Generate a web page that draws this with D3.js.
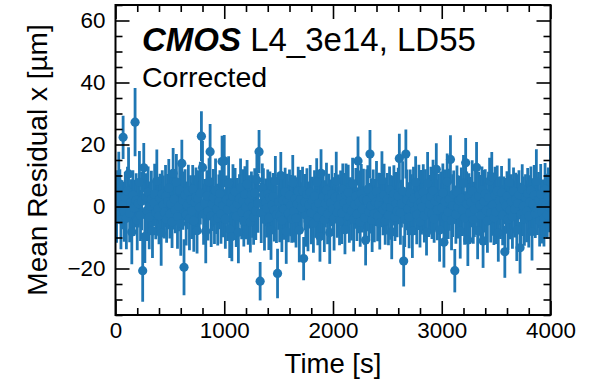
<!DOCTYPE html>
<html>
<head>
<meta charset="utf-8">
<script src="https://cdn.jsdelivr.net/npm/d3@7"></script>
<style>
  body { margin: 0; background: #fff; }
  svg { font-family: "Liberation Sans", Arial, Helvetica, sans-serif; }
  .tick line { stroke: #000; stroke-width: 1.6; }
  .tick text { fill: #000; }
</style>
</head>
<body>
<svg id="chart"></svg>
<script>
// time stamps [s]
const times = [
  0,10,20,30,40,50,60,70,80,90,100,110,120,130,140,150,160,170,180,190,
  200,210,220,230,240,250,260,270,280,290,300,310,320,330,340,350,360,370,380,390,
  400,410,420,430,440,450,460,470,480,490,500,510,520,530,540,550,560,570,580,590,
  600,610,620,630,640,650,660,670,680,690,700,710,720,730,740,750,760,770,780,790,
  800,810,820,830,840,850,860,870,880,890,900,910,920,930,940,950,960,970,980,990,
  1000,1010,1020,1030,1040,1050,1060,1070,1080,1090,1100,1110,1120,1130,1140,1150,1160,1170,1180,1190,
  1200,1210,1220,1230,1240,1250,1260,1270,1280,1290,1300,1310,1320,1330,1340,1350,1360,1370,1380,1390,
  1400,1410,1420,1430,1440,1450,1460,1470,1480,1490,1500,1510,1520,1530,1540,1550,1560,1570,1580,1590,
  1600,1610,1620,1630,1640,1650,1660,1670,1680,1690,1700,1710,1720,1730,1740,1750,1760,1770,1780,1790,
  1800,1810,1820,1830,1840,1850,1860,1870,1880,1890,1900,1910,1920,1930,1940,1950,1960,1970,1980,1990,
  2000,2010,2020,2030,2040,2050,2060,2070,2080,2090,2100,2110,2120,2130,2140,2150,2160,2170,2180,2190,
  2200,2210,2220,2230,2240,2250,2260,2270,2280,2290,2300,2310,2320,2330,2340,2350,2360,2370,2380,2390,
  2400,2410,2420,2430,2440,2450,2460,2470,2480,2490,2500,2510,2520,2530,2540,2550,2560,2570,2580,2590,
  2600,2610,2620,2630,2640,2650,2660,2670,2680,2690,2700,2710,2720,2730,2740,2750,2760,2770,2780,2790,
  2800,2810,2820,2830,2840,2850,2860,2870,2880,2890,2900,2910,2920,2930,2940,2950,2960,2970,2980,2990,
  3000,3010,3020,3030,3040,3050,3060,3070,3080,3090,3100,3110,3120,3130,3140,3150,3160,3170,3180,3190,
  3200,3210,3220,3230,3240,3250,3260,3270,3280,3290,3300,3310,3320,3330,3340,3350,3360,3370,3380,3390,
  3400,3410,3420,3430,3440,3450,3460,3470,3480,3490,3500,3510,3520,3530,3540,3550,3560,3570,3580,3590,
  3600,3610,3620,3630,3640,3650,3660,3670,3680,3690,3700,3710,3720,3730,3740,3750,3760,3770,3780,3790,
  3800,3810,3820,3830,3840,3850,3860,3870,3880,3890,3900,3910,3920,3930,3940,3950,3960,3970,3980,3990,
  4000
];

// mean residual x [um]
const residuals = [
  1.8,-2.6,4.1,7.5,3.2,-4.3,0.6,22.3,-1.7,2.9,
  -3.8,5.0,10.5,-2.2,1.3,-8.2,3.6,-0.4,27.2,2.0,
  -4.5,0.9,7.8,-2.9,1.7,-20.7,12.5,-9.7,3.1,-1.3,
  4.6,-3.5,0.2,2.4,-7.9,1.1,3.9,-2.0,8.2,-0.7,
  -3.0,2.6,-8.6,4.0,0.5,-1.9,3.4,-4.1,1.6,6.0,
  -2.4,0.8,-4.9,10.7,2.3,-1.1,7.9,-3.3,0.1,5.2,
  -5.5,13.9,1.9,-19.6,3.7,-2.7,0.4,4.9,-3.9,2.1,
  -1.4,5.6,-4.6,1.4,3.0,-7.8,2.5,-0.3,4.3,22.7,
  12.6,-2.5,1.0,-8.0,3.5,-1.6,8.0,17.7,-3.1,0.7,
  2.8,-4.4,5.1,-0.8,-3.6,1.5,4.2,-2.3,14.5,0.3,
  14.7,-4.0,2.2,-1.0,7.6,-7.4,1.2,-9.7,3.3,-0.5,
  4.8,-3.2,0.9,-8.3,2.7,6.1,-1.8,1.8,-4.8,3.9,
  -0.2,7.2,-2.8,1.6,-5.0,3.8,0.0,-3.4,4.4,-1.5,
  8.5,1.0,17.7,-24.1,-2.1,5.9,3.7,-4.2,1.3,-0.6,
  4.0,-3.7,2.9,-7.6,0.6,3.2,-1.2,8.1,-2.6,-21.6,
  1.5,-3.0,10.0,-4.5,2.0,-0.9,4.7,-8.1,1.9,-2.2,
  3.6,0.3,-4.0,7.7,-1.6,2.5,-3.8,0.8,4.9,-7.7,
  2.2,-0.4,5.0,-16.8,1.4,-2.9,3.9,-4.7,0.5,4.6,
  -2.0,1.7,-5.4,3.4,-0.1,7.9,-3.5,1.0,-9.7,10.7,
  -1.3,3.1,-4.3,0.9,5.2,-2.4,2.6,-8.4,1.2,4.1,
  -0.8,-3.9,3.0,8.3,-1.9,0.4,-4.8,2.8,-2.1,5.5,
  1.1,-7.5,3.7,-0.6,4.5,-3.2,1.8,-1.4,7.4,-4.1,
  0.6,3.3,-2.5,14.7,1.5,-5.0,4.2,-0.9,2.4,-3.6,
  -10.8,2.0,5.6,-1.7,16.9,0.2,-4.4,3.5,-2.3,1.3,
  4.8,-3.1,0.7,-5.3,2.9,8.4,-1.0,3.8,-4.6,0.0,
  2.3,-2.8,5.3,-0.3,-8.2,1.9,4.0,-3.3,1.0,-1.5,
  3.4,15.5,-2.0,0.9,5.0,-17.6,-4.2,16.9,2.1,-0.7,
  -3.5,4.3,1.2,-7.9,2.6,-1.3,7.8,-2.7,0.5,3.6,
  -4.9,1.4,-0.2,4.6,-3.0,2.3,-8.3,7.5,-1.6,0.8,
  3.2,-2.4,5.1,-4.0,1.7,12.0,-1.1,3.0,-7.6,2.5,
  -0.5,4.4,-11.5,1.6,-3.4,8.0,-1.8,2.2,15.2,-4.5,
  0.3,3.9,-20.7,-2.6,4.7,-0.1,1.9,-8.0,2.7,-1.2,
  7.6,-3.7,14.1,0.9,-10.8,3.1,-2.2,1.4,4.9,-4.2,
  -0.9,2.6,12.6,-7.8,3.5,0.4,-2.9,5.3,-11.1,1.7,
  4.1,-1.4,-4.7,2.9,8.2,-2.0,9.6,0.6,-3.6,3.7,
  -1.7,5.0,-8.5,1.8,-0.4,4.5,-2.8,2.0,-14.6,0.2,
  3.3,-4.1,7.9,-1.1,1.5,-3.3,4.8,-0.8,2.4,-7.7,
  1.0,3.8,-13.3,-2.5,5.6,0.1,-4.0,2.9,-1.5,4.2,
  -3.1,1.3,5.2,-8.1,0.7,3.6,-2.3,8.1,-0.6,2.1,
  -4.6,4.0,-1.9,1.1,-3.8,5.5,0.4,-2.7,3.1,-0.2,
  8.0
];

// uncertainty on each point [um]
const errors = [
  8.4,9.1,7.6,10.2,8.8,9.5,7.9,7.0,9.7,8.3,
  10.0,7.8,8.6,9.3,7.5,10.4,8.1,9.0,11.0,8.7,
  9.6,7.7,10.1,8.2,9.4,10.0,8.0,8.5,7.6,9.8,
  8.3,10.3,7.9,9.1,8.7,7.4,9.9,8.6,10.2,7.8,
  9.2,8.0,10.5,7.7,9.5,8.4,10.0,7.6,8.9,9.3,
  7.9,10.1,8.5,8.2,9.7,7.5,9.0,10.3,8.1,8.8,
  10.4,7.6,9.4,9.0,8.3,9.9,7.7,8.6,10.2,8.0,
  9.1,7.8,10.0,8.7,9.6,7.4,9.2,8.4,10.1,8.0,
  8.5,9.8,7.9,10.3,8.2,9.4,7.6,8.9,10.0,8.6,
  9.3,7.7,10.4,8.1,9.0,8.8,7.5,9.7,8.3,10.2,
  8.4,9.6,7.8,10.1,8.6,9.2,7.9,8.0,10.3,8.7,
  7.6,9.9,8.3,10.0,7.7,9.4,8.8,10.2,8.1,9.1,
  10.4,7.8,9.5,8.5,9.8,7.5,10.1,8.9,7.9,9.3,
  8.2,9.5,7.0,6.2,9.7,8.0,8.6,10.0,7.7,9.4,
  7.9,10.3,8.4,9.6,8.8,7.6,10.1,8.2,9.2,8.0,
  9.0,8.5,7.6,10.2,8.1,9.8,7.8,10.4,8.7,9.3,
  8.3,9.9,7.7,8.9,10.0,7.5,9.4,8.6,7.9,10.3,
  9.6,8.2,7.8,7.0,9.1,10.1,8.4,9.7,7.6,8.8,
  10.2,7.9,9.5,8.3,10.0,7.7,9.0,8.5,8.1,7.8,
  9.3,8.7,10.4,7.6,8.9,9.8,8.0,10.1,7.5,9.2,
  8.6,10.3,7.8,9.4,8.2,9.9,7.7,8.8,10.0,8.4,
  9.7,7.9,10.2,8.1,9.0,8.5,7.6,9.6,8.3,10.4,
  7.8,9.1,8.6,7.9,10.1,8.0,9.5,7.5,9.8,8.7,
  8.2,10.0,7.7,9.3,7.8,8.9,10.3,8.4,9.2,7.6,
  9.9,8.1,10.2,8.6,7.9,9.4,8.3,10.0,7.7,9.0,
  8.5,9.7,7.6,10.4,8.8,8.0,9.3,7.8,10.1,8.4,
  9.1,8.0,10.3,7.7,9.6,8.2,8.9,7.9,9.8,8.5,
  10.0,7.6,9.2,8.7,10.2,7.9,8.4,9.5,8.1,9.9,
  8.3,10.4,7.8,9.0,8.6,9.7,7.5,10.1,8.2,9.4,
  9.6,8.1,10.0,7.7,9.3,8.4,9.8,7.6,10.2,8.8,
  8.0,9.5,8.2,10.3,7.9,9.1,8.7,10.0,7.8,9.6,
  10.1,7.7,7.0,9.4,8.5,10.2,7.9,8.8,9.9,8.3,
  9.0,8.6,8.0,10.4,8.4,7.6,9.7,8.1,10.0,7.8,
  8.9,10.3,8.2,9.2,7.7,9.8,8.5,7.6,8.7,10.1,
  7.9,9.4,10.2,8.3,7.5,9.6,8.0,10.0,8.8,9.1,
  10.4,8.2,9.3,7.8,10.1,8.6,9.7,7.7,8.4,9.0,
  8.1,10.0,7.6,9.5,8.9,10.3,7.8,9.2,8.5,9.9,
  9.4,7.9,8.3,10.2,8.0,9.6,8.7,7.5,10.0,8.2,
  10.1,8.8,7.7,9.3,8.4,9.8,7.9,10.4,8.6,9.0,
  8.3,9.7,10.0,7.6,9.1,8.5,10.2,7.8,9.5,8.1,
  12.0
];

const xMajor = [0, 1000, 2000, 3000, 4000];
const yMajor = [-20, 0, 20, 40, 60];

const W = 590, H = 385;
const margin = { top: 5, right: 39.5, bottom: 70, left: 115.5 };
const width = W - margin.left - margin.right;
const height = H - margin.top - margin.bottom;
const blue = '#1f77b4';

const data = times.map((t, i) => ({ t, v: residuals[i], e: errors[i] }));

const svg = d3.select('#chart')
  .attr('width', W)
  .attr('height', H);

const g = svg.append('g')
  .attr('transform', `translate(${margin.left}, ${margin.top})`);

const x = d3.scaleLinear().domain([0, 4000]).range([0, width]);
const y = d3.scaleLinear().domain([-35, 65]).range([height, 0]);

const xMinor = d3.range(0, 4001, 200).filter(d => !xMajor.includes(d));
const yMinor = d3.range(-35, 66, 5).filter(d => !yMajor.includes(d));

g.append('clipPath')
  .attr('id', 'clip')
  .append('rect')
  .attr('width', width)
  .attr('height', height);

const plot = g.append('g').attr('clip-path', 'url(#clip)');

// error bars
plot.selectAll('line.err')
  .data(data)
  .enter()
  .append('line')
  .attr('class', 'err')
  .attr('x1', d => x(d.t))
  .attr('x2', d => x(d.t))
  .attr('y1', d => y(d.v - d.e))
  .attr('y2', d => y(d.v + d.e))
  .attr('stroke', blue)
  .attr('stroke-width', 2.8);

// markers
plot.selectAll('circle')
  .data(data)
  .enter()
  .append('circle')
  .attr('cx', d => x(d.t))
  .attr('cy', d => y(d.v))
  .attr('r', 4.6)
  .attr('fill', blue);

// axes (ticks inside on all sides)
const addAxis = (axis, transform, size, labels, pad) => {
  const a = g.append('g')
    .attr('transform', transform)
    .call(axis.tickSizeInner(size).tickSizeOuter(0).tickPadding(pad));
  a.select('.domain').remove();
  if (!labels) a.selectAll('text').remove();
  return a;
};

const xb = addAxis(d3.axisBottom(x).tickValues(xMajor).tickFormat(d3.format('d')),
  `translate(0, ${height})`, -14, true, 7);
xb.selectAll('text').attr('font-size', 22.4);
addAxis(d3.axisBottom(x).tickValues(xMinor), `translate(0, ${height})`, -7, false, 0);
addAxis(d3.axisTop(x).tickValues(xMajor), 'translate(0, 0)', -14, false, 0);
addAxis(d3.axisTop(x).tickValues(xMinor), 'translate(0, 0)', -7, false, 0);

const yl = addAxis(d3.axisLeft(y).tickValues(yMajor).tickFormat(d3.format('d')),
  'translate(0, 0)', -14, true, 10);
yl.selectAll('text').attr('font-size', 22.4);
addAxis(d3.axisLeft(y).tickValues(yMinor), 'translate(0, 0)', -7, false, 0);
addAxis(d3.axisRight(y).tickValues(yMajor), `translate(${width}, 0)`, -14, false, 0);
addAxis(d3.axisRight(y).tickValues(yMinor), `translate(${width}, 0)`, -7, false, 0);

// frame
g.append('rect')
  .attr('width', width)
  .attr('height', height)
  .attr('fill', 'none')
  .attr('stroke', '#000')
  .attr('stroke-width', 2);

// axis labels
svg.append('text')
  .attr('x', margin.left + width / 2)
  .attr('y', 373)
  .attr('text-anchor', 'middle')
  .attr('font-size', 27.5)
  .text('Time [s]');

svg.append('text')
  .attr('transform', `translate(47, ${margin.top + height / 2}) rotate(-90)`)
  .attr('text-anchor', 'middle')
  .attr('font-size', 28)
  .text('Mean Residual x [\u00b5m]');

// header text
const head = svg.append('text')
  .attr('x', 142)
  .attr('y', 51)
  .attr('font-size', 33);
head.append('tspan')
  .attr('font-weight', 'bold')
  .attr('font-style', 'italic')
  .text('CMOS');
head.append('tspan')
  .text(' L4_3e14, LD55');

svg.append('text')
  .attr('x', 142)
  .attr('y', 87)
  .attr('font-size', 28.5)
  .text('Corrected');
</script>
</body>
</html>
